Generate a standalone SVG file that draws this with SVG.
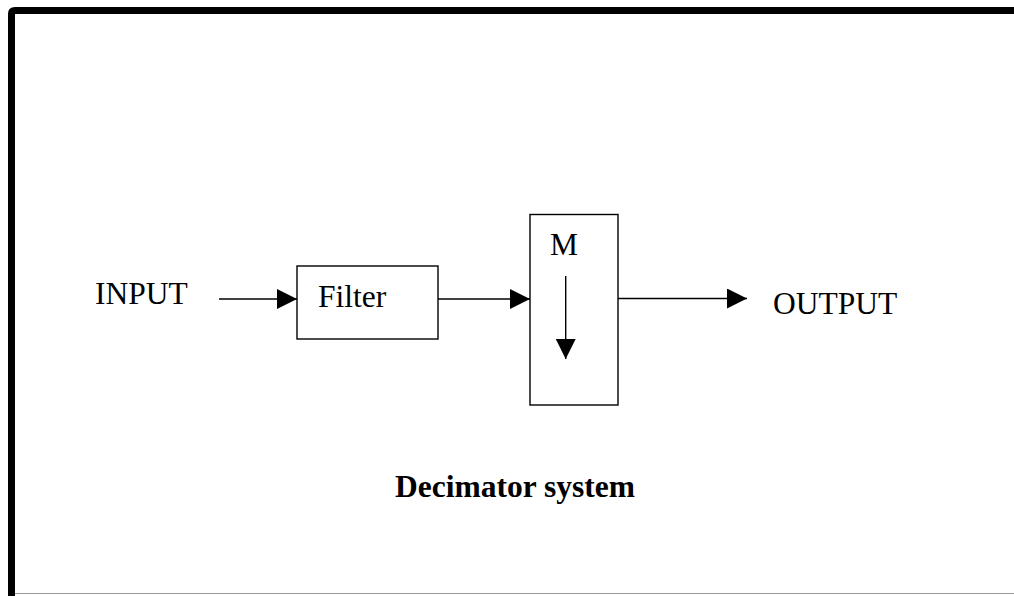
<svg xmlns="http://www.w3.org/2000/svg" width="1014" height="596" viewBox="0 0 1014 596">
  <style>
    .box { fill: #ffffff; stroke: #000000; stroke-width: 1.4; }
    .wire { fill: none; stroke: #000000; stroke-width: 1.4; }
    .lbl { font-family: "Liberation Serif", "Times New Roman", serif; font-size: 31.5px; fill: #000000; }
    .title { font-weight: bold; }
  </style>
  <defs>
    <marker id="head" markerUnits="userSpaceOnUse" markerWidth="20" markerHeight="20" refX="20" refY="10" orient="auto" viewBox="0 0 20 20">
      <path d="M0,0 L20,10 L0,20 Z" fill="#000000"/>
    </marker>
  </defs>

  <rect width="1014" height="596" fill="#ffffff"/>

  <!-- frame: heavy left and top edges, thin bottom edge -->
  <g id="frame">
    <path d="M11.5,596 L11.5,14 Q11.5,10.5 15,10.5 L1014,10.5" fill="none" stroke="#000000" stroke-width="7"/>
    <line x1="15" y1="593.5" x2="1014" y2="593.5" stroke="#9a9a9a" stroke-width="1"/>
  </g>

  <g id="input-label">
    <text class="lbl" x="95" y="303.5">INPUT</text>
  </g>

  <g id="filter">
    <rect class="box" x="297" y="266" width="141" height="73"/>
    <text class="lbl" x="318" y="307">Filter</text>
  </g>

  <g id="downsampler">
    <rect class="box" x="530" y="214.5" width="88" height="190.5"/>
    <text class="lbl" x="550" y="255">M</text>
    <line class="wire" x1="565.7" y1="276" x2="565.7" y2="359" marker-end="url(#head)"/>
  </g>

  <g id="output-label">
    <text class="lbl" x="773" y="314">OUTPUT</text>
  </g>

  <g id="connectors">
    <line class="wire" x1="219" y1="299" x2="297" y2="299" marker-end="url(#head)"/>
    <line class="wire" x1="438" y1="299" x2="530" y2="299" marker-end="url(#head)"/>
    <line class="wire" x1="618" y1="298.5" x2="747" y2="298.5" marker-end="url(#head)"/>
  </g>

  <g id="caption">
    <text class="lbl title" x="395" y="497">Decimator system</text>
  </g>
</svg>
